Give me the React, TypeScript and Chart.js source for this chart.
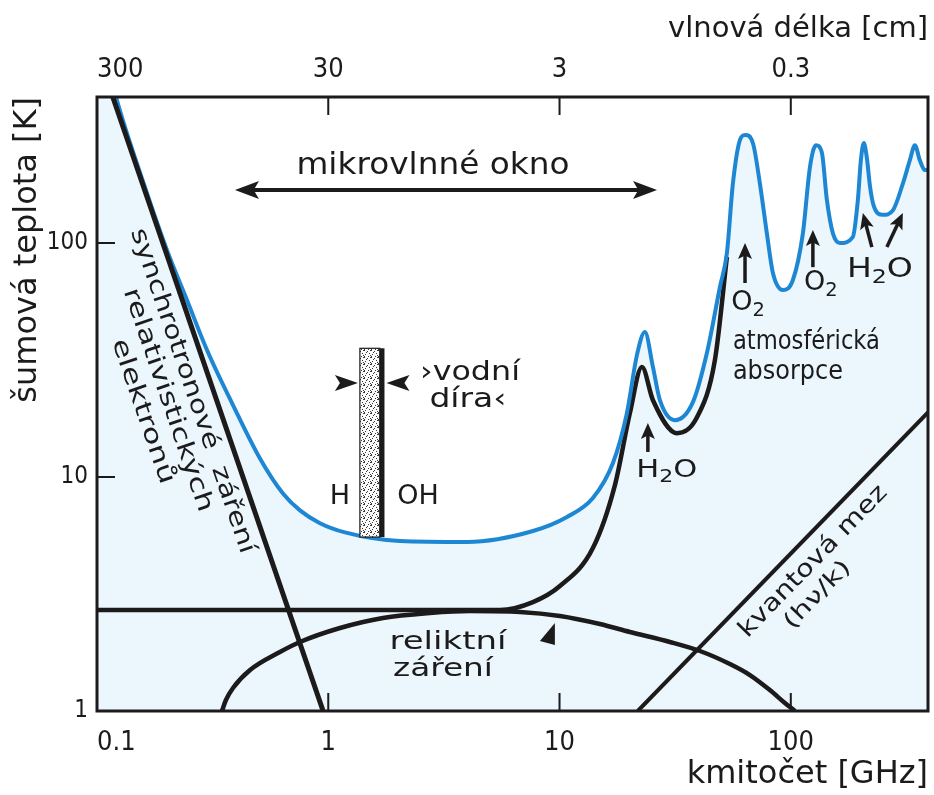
import React, { useEffect, useRef } from "react";
import { Chart, registerables } from "chart.js";

Chart.register(...registerables);

// ---------- axes ----------
const FREQ_RANGE = [0.1, 392]; // GHz
const TEMP_RANGE = [1, 421]; // K
const FREQ_TICKS = [0.1, 1, 10, 100];
const FREQ_TICK_LABELS = ["0.1", "1", "10", "100"];
const WAVELENGTH_TICK_LABELS = ["300", "30", "3", "0.3"]; // cm, same positions as FREQ_TICKS
const TEMP_TICKS = [1, 10, 100];
const TEMP_TICK_LABELS = ["1", "10", "100"];

// ---------- series [GHz, K] ----------
const SKY_NOISE = [
  [0.1, 900], [0.1208, 421], [0.1613, 173], [0.2007, 93.3], [0.2449, 57.1], [0.2989, 34.9],
  [0.3873, 20.3], [0.5067, 12.0], [0.637, 8.5], [0.7545, 7.2], [0.921, 6.35], [1.181, 5.8],
  [2.042, 5.33], [3.979, 5.28], [7.674, 5.88], [10.77, 6.75], [13.94, 8.13], [17.02, 11.48],
  [19.56, 18.77], [21.61, 33.2], [23.39, 41.7], [25.35, 29.5], [27.17, 21.3], [31.55, 17.5],
  [37.73, 20.9], [43.37, 33.9], [49.39, 64.9], [52.94, 90.6], [56.2, 180], [60.2, 275],
  [63.4, 290], [68.6, 267], [73.5, 180], [78.8, 110], [83.7, 74.5], [92.5, 63.0],
  [102.1, 69.5], [112.8, 110], [121.0, 211], [128.5, 262], [136.3, 243], [143.2, 153],
  [152.1, 110], [163.0, 100], [185.4, 106], [195.0, 152.7], [200.9, 226], [207.0, 267.5],
  [213.3, 230.7], [220.0, 175], [228.0, 145], [250.0, 132], [276.3, 138], [305.4, 180],
  [327.3, 226], [344.0, 262], [361.4, 226], [380.0, 205], [392, 205],
];
const ATMOSPHERE = [
  [0.1, 2.7], [5.52, 2.7], [7.674, 2.92], [10.04, 3.42], [13.94, 4.97], [17.36, 9.24],
  [20.15, 18.77], [22.71, 29.5], [25.35, 21.3], [32.2, 15.4], [39.3, 18.0], [46.97, 31.6],
  [52.94, 87.1],
];
const CMB_ARC = [
  [0.347, 1.0], [0.361, 1.114], [0.3873, 1.254], [0.459, 1.497], [0.618, 1.787], [0.7545, 1.972],
  [1.124, 2.263], [1.724, 2.497], [2.752, 2.623], [4.099, 2.675], [6.744, 2.65], [10.04, 2.547],
  [14.95, 2.353], [20.15, 2.176], [30.01, 1.972], [40.46, 1.805], [54.54, 1.588], [66.56, 1.425],
  [81.2, 1.229], [94.3, 1.082], [104.2, 1.0],
];
const SYNCHROTRON = [[0.117, 421], [0.95, 1]];
const QUANTUM_LIMIT = [[21.8, 1], [392, 18.9]];

// ---------- annotations (data coordinates) ----------
const WINDOW_SPAN = [0.395, 26.4, 168.5];
const WINDOW_LABEL_AT = [2.836, 213];
const SYNCH_LABELS = ["synchrotronové  záření", "relativistických", "elektronů"];
const SYNCH_LABEL_AT = [[0.2574, 23.3], [0.2017, 21.3], [0.1573, 19.05]];
const CMB_LABELS = ["reliktní", "záření"];
const CMB_LABEL_AT = [[3.293, 1.953], [3.133, 1.497]];
const CMB_POINTER_AT = [9.55, 2.133];
const WATER_HOLE = [1.37, 1.67, 1.75];
const WATER_HOLE_TEMP = [5.54, 35.5];
const WATER_HOLE_POINTER_TEMP = 25.2;
const WATER_HOLE_LABELS = ["›vodní", "díra‹"];
const WATER_HOLE_LABEL_AT = [[4.099, 27.8], [4.018, 21.3]];
const LINE_NAMES = ["H", "OH"];
const LINE_NAME_AT = [[1.124, 8.21], [2.443, 8.21]];
const ATM_LABELS = ["atmosférická", "absorpce"];
const ATM_LABEL_AT = [[56.2, 37.8], [56.2, 28.1]];
const QUANTUM_LABELS = ["kvantová mez", "(hν/k)"];
const QUANTUM_LABEL_AT = [[125.2, 4.35], [130.9, 3.13]];
const LINE_ARROWS = [
  [24.1, 12.8, 24.1, 17.0],
  [63.4, 67.5, 63.4, 100],
  [124.6, 78.9, 124.6, 113.6],
  [224.1, 96.1, 205, 134.4],
  [260.3, 96.1, 305.2, 134.4],
];
const MOLECULES = ["H2O", "O2", "O2", "H2O"];
const MOLECULE_AT = [[29.1, 10.7], [65.3, 55.4], [134.9, 67.5], [242.8, 76.7]];

// ---------- style ----------
const INK = "#1c1a1a";
const BLUE = "#1d87d4";
const FILL = "#ebf7fc";
const FONT = "'DejaVu Sans', 'Open Sans', sans-serif";
const TICK_FAMILY = "'Liberation Sans Narrow', 'DejaVu Sans Condensed', Roboto, sans-serif";

const pts = (arr: number[][]) => arr.map(([x, y]) => ({ x, y }));

function text(ctx: any, s: string, x: number, y: number, size: number, opt: any = {}) {
  ctx.save();
  ctx.translate(x, y);
  if (opt.angle) ctx.rotate(opt.angle);
  ctx.font = `${size}px ${FONT}`;
  ctx.textAlign = opt.align || "center";
  ctx.textBaseline = "middle";
  if (opt.width) {
    const w = ctx.measureText(s).width;
    ctx.scale(opt.width / w, 1);
  }
  ctx.fillStyle = INK;
  ctx.fillText(s, 0, 0);
  ctx.restore();
}

function chem(ctx: any, formula: string, x: number, y: number, size: number, width?: number) {
  const parts = formula.split("").map((c) => [c, /[0-9]/.test(c)] as [string, boolean]);
  const sub = size * 0.72;
  ctx.save();
  ctx.fillStyle = INK;
  ctx.textBaseline = "middle";
  ctx.textAlign = "left";
  let total = 0;
  const widths: number[] = [];
  for (const [s, isSub] of parts) {
    ctx.font = `${isSub ? sub : size}px ${FONT}`;
    const w = ctx.measureText(s).width;
    widths.push(w);
    total += w;
  }
  ctx.translate(x, y);
  const k = width ? width / total : 1;
  ctx.scale(k, 1);
  let cx = -total / 2;
  parts.forEach(([s, isSub], i) => {
    ctx.font = `${isSub ? sub : size}px ${FONT}`;
    ctx.fillText(s, cx, isSub ? size * 0.3 : 0);
    cx += widths[i];
  });
  ctx.restore();
}

function head(ctx: any, tx: number, ty: number, ux: number, uy: number, len: number, half: number) {
  const bx = tx - ux * len, by = ty - uy * len;
  const nx = -uy, ny = ux;
  ctx.beginPath();
  ctx.moveTo(tx, ty);
  ctx.lineTo(bx + nx * half, by + ny * half);
  ctx.lineTo(bx + ux * len * 0.22, by + uy * len * 0.22);
  ctx.lineTo(bx - nx * half, by - ny * half);
  ctx.closePath();
  ctx.fill();
}

function arrow(ctx: any, x0: number, y0: number, x1: number, y1: number, len: number, half: number, lw: number) {
  const dx = x1 - x0, dy = y1 - y0, L = Math.hypot(dx, dy);
  const ux = dx / L, uy = dy / L;
  ctx.lineWidth = lw;
  ctx.beginPath();
  ctx.moveTo(x0, y0);
  ctx.lineTo(x1 - ux * len * 0.6, y1 - uy * len * 0.6);
  ctx.stroke();
  head(ctx, x1, y1, ux, uy, len, half);
}

let stipplePattern: any = null;
function stipple(ctx: any) {
  if (stipplePattern) return stipplePattern;
  const c = document.createElement("canvas");
  c.width = 7;
  c.height = 7;
  const g = c.getContext("2d")!;
  g.fillStyle = "#fbfbfb";
  g.fillRect(0, 0, 7, 7);
  g.fillStyle = "#3a3a3a";
  const dots = [[0, 0], [3, 1], [5, 3], [1, 4], [4, 6], [6, 0], [2, 2], [6, 5], [0, 6]];
  for (const [x, y] of dots) g.fillRect(x, y, 1, 1);
  stipplePattern = ctx.createPattern(c, "repeat");
  return stipplePattern;
}

const annotationPlugin = {
  id: "annotations",
  afterDatasetsDraw(chart: any) {
    const { ctx, chartArea: a, scales } = chart;
    const X = (f: number) => scales.x.getPixelForValue(f);
    const Y = (t: number) => scales.y.getPixelForValue(t);
    ctx.save();
    ctx.fillStyle = INK;
    ctx.strokeStyle = INK;

    // microwave window double arrow
    {
      const [f0, f1, t] = WINDOW_SPAN;
      const x0 = X(f0), x1 = X(f1), y = Y(t);
      ctx.lineWidth = 4;
      ctx.beginPath();
      ctx.moveTo(x0 + 14, y);
      ctx.lineTo(x1 - 14, y);
      ctx.stroke();
      head(ctx, x0, y, -1, 0, 24, 9);
      head(ctx, x1, y, 1, 0, 24, 9);
      text(ctx, "mikrovlnné okno", X(WINDOW_LABEL_AT[0]), Y(WINDOW_LABEL_AT[1]), 30, { width: 273 });
    }

    // synchrotron labels along the line
    {
      const [p0, p1] = SYNCHROTRON;
      const ang = Math.atan2(Y(p1[1]) - Y(p0[1]), X(p1[0]) - X(p0[0]));
      const widths = [342, 235, 152];
      SYNCH_LABELS.forEach((s, i) => {
        const [f, t] = SYNCH_LABEL_AT[i];
        text(ctx, s, X(f), Y(t), 24, { angle: ang, width: widths[i] });
      });
    }

    // quantum limit labels
    {
      const [p0, p1] = QUANTUM_LIMIT;
      const ang = Math.atan2(Y(p1[1]) - Y(p0[1]), X(p1[0]) - X(p0[0]));
      const widths = [202, 86];
      const sizes = [24, 22];
      QUANTUM_LABELS.forEach((s, i) => {
        const [f, t] = QUANTUM_LABEL_AT[i];
        text(ctx, s, X(f), Y(t), sizes[i], { angle: ang, width: widths[i] });
      });
    }

    // CMB labels and pointer
    {
      const widths = [117, 100];
      CMB_LABELS.forEach((s, i) => {
        const [f, t] = CMB_LABEL_AT[i];
        text(ctx, s, X(f), Y(t), 24, { width: widths[i] });
      });
      const px = X(CMB_POINTER_AT[0]), py = Y(CMB_POINTER_AT[1]);
      ctx.beginPath();
      ctx.moveTo(px, py - 11);
      ctx.lineTo(px, py + 11);
      ctx.lineTo(px - 15, py + 7);
      ctx.closePath();
      ctx.fill();
    }

    // water hole bar
    {
      const xl = X(WATER_HOLE[0]), xr = X(WATER_HOLE[1]), xr2 = X(WATER_HOLE[2]);
      const yb = Y(WATER_HOLE_TEMP[0]), yt = Y(WATER_HOLE_TEMP[1]);
      ctx.fillStyle = stipple(ctx);
      ctx.fillRect(xl, yt, xr - xl, yb - yt);
      ctx.fillStyle = INK;
      ctx.fillRect(xr, yt, xr2 - xr, yb - yt);
      ctx.lineWidth = 1.2;
      ctx.strokeRect(xl, yt, xr - xl, yb - yt);
      const yp = Y(WATER_HOLE_POINTER_TEMP);
      head(ctx, xl - 2, yp, 1, 0, 23, 8);
      head(ctx, xr2 + 2, yp, -1, 0, 23, 8);
      const widths = [100, 77];
      WATER_HOLE_LABELS.forEach((s, i) => {
        const [f, t] = WATER_HOLE_LABEL_AT[i];
        text(ctx, s, X(f), Y(t), 26, { width: widths[i] });
      });
      LINE_NAMES.forEach((s, i) => {
        const [f, t] = LINE_NAME_AT[i];
        text(ctx, s, X(f), Y(t), 27);
      });
    }

    // atmospheric absorption labels
    {
      const widths = [147, 110];
      ATM_LABELS.forEach((s, i) => {
        const [f, t] = ATM_LABEL_AT[i];
        text(ctx, s, X(f), Y(t), 26, { align: "left", width: widths[i] });
      });
    }

    // line arrows and molecule names
    LINE_ARROWS.forEach(([f0, t0, f1, t1]) => {
      arrow(ctx, X(f0), Y(t0), X(f1), Y(t1), 16, 7, 3.5);
    });
    const molSize = [25, 27, 27, 26];
    const molWidth = [61, undefined, undefined, 66];
    MOLECULES.forEach((m, i) => {
      const [f, t] = MOLECULE_AT[i];
      chem(ctx, m, X(f), Y(t), molSize[i], molWidth[i]);
    });

    // inner tick marks
    ctx.lineWidth = 2;
    ctx.beginPath();
    FREQ_TICKS.slice(1).forEach((v) => {
      const x = X(v);
      ctx.moveTo(x, a.bottom);
      ctx.lineTo(x, a.bottom - 18);
      ctx.moveTo(x, a.top);
      ctx.lineTo(x, a.top + 18);
    });
    TEMP_TICKS.slice(1).forEach((v) => {
      const y = Y(v);
      ctx.moveTo(a.left, y);
      ctx.lineTo(a.left + 18, y);
    });
    ctx.stroke();

    // frame
    ctx.lineWidth = 3;
    ctx.strokeRect(a.left, a.top, a.right - a.left, a.bottom - a.top);
    ctx.restore();
  },
};

function buildConfig(): any {
  const freqTicks = (s: any) => {
    s.ticks = [...FREQ_TICKS, FREQ_RANGE[1]].map((v) => ({ value: v }));
  };
  return {
    type: "line",
    data: {
      datasets: [
        {
          label: "synchrotronové záření",
          data: pts(SYNCHROTRON),
          borderColor: INK,
          borderWidth: 5,
          pointRadius: 0,
          tension: 0,
          fill: false,
          order: 0,
        },
        {
          label: "šumová teplota oblohy",
          data: pts(SKY_NOISE),
          borderColor: BLUE,
          borderWidth: 4,
          pointRadius: 0,
          cubicInterpolationMode: "monotone",
          fill: "start",
          backgroundColor: FILL,
          segment: {
            borderColor: (c: any) => (c.p0DataIndex === 0 ? "rgba(0,0,0,0)" : BLUE),
          },
          order: 1,
        },
        {
          label: "atmosféra",
          data: pts(ATMOSPHERE),
          borderColor: INK,
          borderWidth: 4.5,
          pointRadius: 0,
          cubicInterpolationMode: "monotone",
          fill: false,
          order: 2,
        },
        {
          label: "reliktní záření",
          data: pts(CMB_ARC),
          borderColor: INK,
          borderWidth: 4.5,
          pointRadius: 0,
          cubicInterpolationMode: "monotone",
          fill: false,
          order: 3,
        },
        {
          label: "kvantová mez",
          data: pts(QUANTUM_LIMIT),
          borderColor: INK,
          borderWidth: 4,
          pointRadius: 0,
          tension: 0,
          fill: false,
          order: 4,
        },
      ],
    },
    options: {
      responsive: false,
      animation: false,
      events: [],
      layout: { padding: { left: 0, right: 6, top: 0, bottom: 0 } },
      plugins: {
        legend: { display: false },
        tooltip: { enabled: false },
        filler: { drawTime: "beforeDatasetsDraw" },
      },
      scales: {
        x: {
          type: "logarithmic",
          position: "bottom",
          min: FREQ_RANGE[0],
          max: FREQ_RANGE[1],
          afterBuildTicks: freqTicks,
          ticks: {
            align: "inner",
            padding: 4,
            autoSkip: false,
            maxRotation: 0,
            color: INK,
            font: { family: TICK_FAMILY, size: 27, lineHeight: 2.04 },
            callback: (_v: any, i: number) => FREQ_TICK_LABELS[i] ?? "",
          },
          grid: { display: false, drawTicks: false },
          border: { display: false },
          title: {
            display: true,
            text: "kmitočet [GHz]",
            align: "end",
            color: INK,
            font: { family: FONT, size: 32, lineHeight: 1 },
            padding: { top: 0, bottom: 4 },
          },
          afterFit: (s: any) => {
            s.height = 84;
          },
        },
        x2: {
          type: "logarithmic",
          position: "top",
          min: FREQ_RANGE[0],
          max: FREQ_RANGE[1],
          afterBuildTicks: freqTicks,
          ticks: {
            align: "inner",
            padding: 4,
            autoSkip: false,
            maxRotation: 0,
            color: INK,
            font: { family: TICK_FAMILY, size: 27, lineHeight: 1.67 },
            callback: (_v: any, i: number) => WAVELENGTH_TICK_LABELS[i] ?? "",
          },
          grid: { display: false, drawTicks: false },
          border: { display: false },
          title: {
            display: true,
            text: "vlnová délka [cm]",
            align: "end",
            color: INK,
            font: { family: FONT, size: 29, lineHeight: 1 },
            padding: { top: 15, bottom: 0 },
          },
          afterFit: (s: any) => {
            s.height = 97;
          },
        },
        y: {
          type: "logarithmic",
          position: "left",
          min: TEMP_RANGE[0],
          max: TEMP_RANGE[1],
          afterBuildTicks: (s: any) => {
            s.ticks = TEMP_TICKS.map((v) => ({ value: v }));
          },
          ticks: {
            padding: 9,
            autoSkip: false,
            color: INK,
            font: { family: TICK_FAMILY, size: 24, lineHeight: 1 },
            callback: (_v: any, i: number) => TEMP_TICK_LABELS[i] ?? "",
          },
          grid: { display: false, drawTicks: false },
          border: { display: false },
          title: {
            display: true,
            text: "šumová teplota [K]",
            align: "end",
            color: INK,
            font: { family: FONT, size: 32, lineHeight: 1 },
            padding: { top: 12, bottom: 0 },
          },
          afterFit: (s: any) => {
            s.width = 97;
          },
        },
      },
    },
    plugins: [annotationPlugin],
  };
}

export default function App() {
  const ref = useRef<HTMLCanvasElement>(null);
  useEffect(() => {
    if (!ref.current) return;
    const chart = new Chart(ref.current, buildConfig());
    return () => chart.destroy();
  }, []);
  return (
    <div style={{ position: "absolute", left: 0, top: 0, width: 934, height: 795, background: "#fff" }}>
      <canvas ref={ref} width={934} height={795} style={{ display: "block", width: 934, height: 795 }} />
    </div>
  );
}
